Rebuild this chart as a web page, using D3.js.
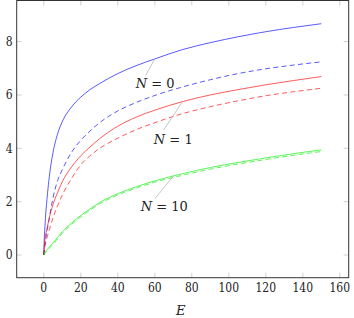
<!DOCTYPE html>
<html>
<head>
<meta charset="utf-8">
<script src="https://cdn.jsdelivr.net/npm/d3@7"></script>
<style>
  body { margin: 0; background: #fff; }
  svg { display: block; }
</style>
</head>
<body>
<div id="chart"></div>
<script>
var svgWidth = 354;
var svgHeight = 318;

// sampled energies and read-off curve values
var energy = [0, 0.25, 0.5, 1, 2, 3, 5, 7.5, 10, 15, 20, 25, 30, 40, 50, 60, 75, 90, 105, 120, 135, 150];
var blueSolid   = [0, 0.6, 0.95, 1.5, 2.3, 2.95, 3.85, 4.55, 5.0, 5.55, 5.92, 6.2, 6.42, 6.8, 7.1, 7.35, 7.7, 7.96, 8.18, 8.37, 8.53, 8.67];
var blueDashed  = [0, 0.2, 0.35, 0.6, 1.0, 1.4, 2.15, 2.8, 3.2, 3.85, 4.3, 4.65, 4.95, 5.4, 5.72, 5.98, 6.3, 6.57, 6.8, 6.98, 7.12, 7.24];
var redSolid    = [0, 0.3, 0.5, 0.75, 1.08, 1.4, 1.9, 2.35, 2.75, 3.3, 3.72, 4.05, 4.35, 4.83, 5.17, 5.43, 5.75, 6.0, 6.2, 6.38, 6.54, 6.69];
var redDashed   = [0, 0.15, 0.3, 0.45, 0.72, 0.95, 1.4, 1.85, 2.25, 2.87, 3.38, 3.72, 3.99, 4.38, 4.7, 4.96, 5.3, 5.56, 5.78, 5.97, 6.12, 6.25];
var greenSolid  = [0, 0.04, 0.08, 0.13, 0.22, 0.3, 0.45, 0.67, 0.87, 1.2, 1.48, 1.73, 1.96, 2.3, 2.56, 2.78, 3.05, 3.28, 3.47, 3.64, 3.8, 3.94];
var greenDashed = [0, 0.03, 0.06, 0.1, 0.18, 0.26, 0.4, 0.62, 0.82, 1.15, 1.43, 1.68, 1.91, 2.25, 2.51, 2.73, 2.99, 3.22, 3.41, 3.58, 3.74, 3.88];

var xTicks = [0, 20, 40, 60, 80, 100, 120, 140, 160];
var yTicks = [0, 2, 4, 6, 8];

var series = [
  { values: blueSolid, color: "#0000ff", dash: null },
  { values: blueDashed, color: "#0000ff", dash: "5,3.3" },
  { values: redSolid, color: "#ff0000", dash: null },
  { values: redDashed, color: "#ff0000", dash: "5,3.3" },
  { values: greenSolid, color: "#00f000", dash: null },
  { values: greenDashed, color: "#00f000", dash: "5,3.3" }
];

// labels pinned to curves
var pinLabels = ["0", "1", "10"];
var pinSeries = [blueSolid, redSolid, greenSolid];
var pinEnergy = [60, 75, 70];

var serif = "'DejaVu Serif', serif";
var serifNarrow = "'DejaVu Serif Condensed', 'DejaVu Serif', serif";
var plot = { left: 16.7, right: 348.7, top: 0.5, bottom: 277.7 };

var svg = d3.select("#chart").append("svg")
    .attr("width", svgWidth)
    .attr("height", svgHeight)
    .style("font-family", serif);

var xScale = d3.scaleLinear().domain([-14.65, 164.8]).range([plot.left, plot.right]);
var yScale = d3.scaleLinear().domain([-0.85, 9.54]).range([plot.bottom, plot.top]);

// ticks inside on all four sides
var tickLen = 5;
var tickG = svg.append("g").attr("stroke", "#c4c4c4").attr("stroke-width", 0.8);
xTicks.forEach(function(t) {
  var x = xScale(t);
  tickG.append("line").attr("x1", x).attr("x2", x).attr("y1", plot.bottom).attr("y2", plot.bottom - tickLen);
  tickG.append("line").attr("x1", x).attr("x2", x).attr("y1", plot.top).attr("y2", plot.top + tickLen);
});
yTicks.forEach(function(t) {
  var y = yScale(t);
  tickG.append("line").attr("x1", plot.left).attr("x2", plot.left + tickLen).attr("y1", y).attr("y2", y);
  tickG.append("line").attr("x1", plot.right).attr("x2", plot.right - tickLen).attr("y1", y).attr("y2", y);
});

// curves
var line = d3.line()
    .x(function(d) { return xScale(d[0]); })
    .y(function(d) { return yScale(d[1]); })
    .curve(d3.curveMonotoneX);

series.forEach(function(s) {
  svg.append("path")
      .datum(energy.map(function(e, i) { return [e, s.values[i]]; }))
      .attr("fill", "none")
      .attr("stroke", s.color)
      .attr("stroke-width", 0.65)
      .attr("stroke-dasharray", s.dash)
      .attr("d", line);
});

// frame
svg.append("rect")
    .attr("x", plot.left)
    .attr("y", plot.top)
    .attr("width", plot.right - plot.left)
    .attr("height", plot.bottom - plot.top)
    .attr("fill", "none")
    .attr("stroke", "#333")
    .attr("stroke-width", 1);

// tick labels
svg.append("g").selectAll("text")
    .data(xTicks)
    .enter()
    .append("text")
    .attr("x", function(d) { return xScale(d); })
    .attr("y", 291.5)
    .attr("text-anchor", "middle")
    .style("font-family", serifNarrow)
    .attr("font-size", "12px")
    .attr("fill", "#222")
    .text(function(d) { return d; });

svg.append("g").selectAll("text")
    .data(yTicks)
    .enter()
    .append("text")
    .attr("x", 12.5)
    .attr("y", function(d) { return yScale(d) + 4.3; })
    .attr("text-anchor", "end")
    .style("font-family", serifNarrow)
    .attr("font-size", "12px")
    .attr("fill", "#222")
    .text(function(d) { return d; });

// axis label
svg.append("text")
    .attr("x", xScale(74))
    .attr("y", 314.5)
    .attr("text-anchor", "middle")
    .attr("font-size", "13px")
    .attr("font-style", "italic")
    .attr("fill", "#222")
    .text("E");

// pins: line end and label centre as pixel offsets from the curve point
var lineOffset = [[-9.3, 16.7], [-19, 28.4], [-18.3, 22.6]];
var labelOffset = [[0.4, 25], [-9.3, 37.7], [-9, 30.6]];

pinLabels.forEach(function(lbl, i) {
  var e = pinEnergy[i];
  var v = d3.scaleLinear().domain(energy).range(pinSeries[i])(e);
  var px = xScale(e), py = yScale(v);

  svg.append("line")
      .attr("x1", px).attr("y1", py)
      .attr("x2", px + lineOffset[i][0]).attr("y2", py + lineOffset[i][1])
      .attr("stroke", "#aaa")
      .attr("stroke-width", 0.7);

  var t = svg.append("text")
      .attr("x", px + labelOffset[i][0])
      .attr("y", py + labelOffset[i][1] + 4.5)
      .attr("text-anchor", "middle")
      .attr("font-size", "13px")
      .attr("fill", "#222");
  t.append("tspan").attr("font-style", "italic").text("N");
  t.append("tspan").text(" = " + lbl);
});
</script>
</body>
</html>
